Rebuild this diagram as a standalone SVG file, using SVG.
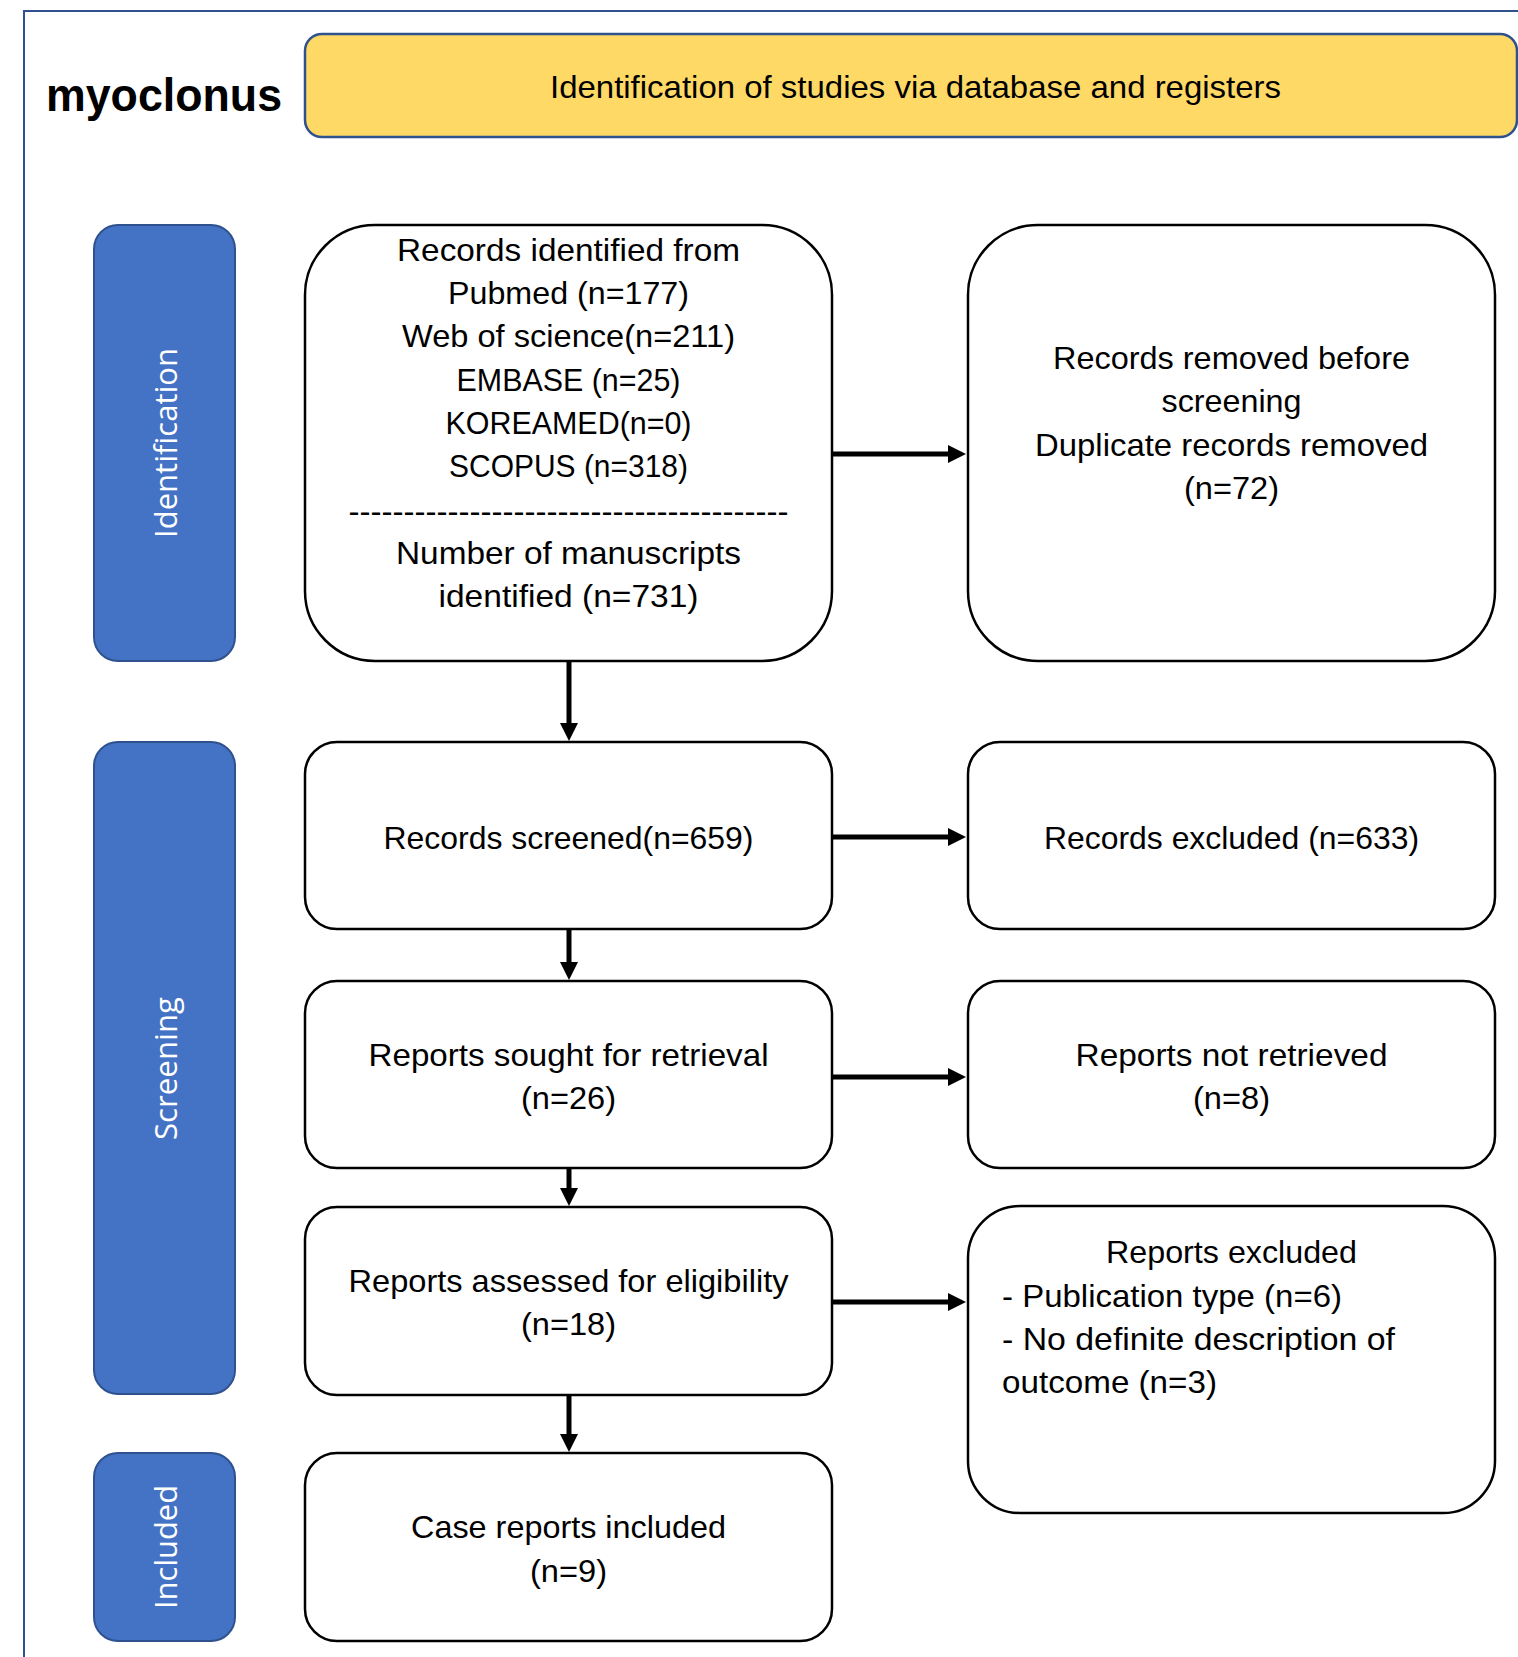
<svg xmlns="http://www.w3.org/2000/svg" width="1518" height="1657" viewBox="0 0 1518 1657">
<style>
.box{fill:#fff;stroke:#000;stroke-width:2.5}
.tab{fill:#4472C4;stroke:#2F528F;stroke-width:2}
.t{font-family:"Liberation Sans",Arial,sans-serif;font-size:32px;fill:#000;text-anchor:middle}
.tl{font-family:"Liberation Sans",Arial,sans-serif;font-size:32px;fill:#000;text-anchor:start}
.v{font-family:"Open Sans","DejaVu Sans",sans-serif;font-size:31px;fill:#fff;text-anchor:middle}
.c{stroke:#000;stroke-width:5;fill:none;marker-end:url(#ah)}
</style>
<defs>
<marker id="ah" markerUnits="userSpaceOnUse" markerWidth="18" markerHeight="18" refX="2" refY="9" orient="auto">
<path d="M0,0 L18,9 L0,18 z" fill="#000"/>
</marker>
</defs>
<rect width="1518" height="1657" fill="#fff"/>
<rect x="24" y="11" width="1600" height="1700" fill="none" stroke="#2F528F" stroke-width="2"/>

<g id="title">
<text x="46" y="111" font-family="'Liberation Sans',Arial,sans-serif" font-weight="bold" font-size="46" textLength="236" lengthAdjust="spacingAndGlyphs">myoclonus</text>
</g>

<g id="header">
<rect x="305" y="34" width="1212" height="103" rx="17" fill="#FFD966" stroke="#2F528F" stroke-width="2.5"/>
<text class="t" x="915.5" y="98" textLength="731" lengthAdjust="spacingAndGlyphs">Identification of studies via database and registers</text>
</g>

<g id="tab-identification">
<rect class="tab" x="94" y="225" width="141" height="436" rx="24"/>
<text class="v" transform="translate(177,443) rotate(-90)" textLength="190" lengthAdjust="spacingAndGlyphs">Identification</text>
</g>
<g id="tab-screening">
<rect class="tab" x="94" y="742" width="141" height="652" rx="24"/>
<text class="v" transform="translate(177,1068.5) rotate(-90)" textLength="143" lengthAdjust="spacingAndGlyphs">Screening</text>
</g>
<g id="tab-included">
<rect class="tab" x="94" y="1453" width="141" height="188" rx="24"/>
<text class="v" transform="translate(177,1547) rotate(-90)" textLength="124" lengthAdjust="spacingAndGlyphs">Included</text>
</g>

<g id="records-identified">
<rect class="box" x="305" y="225" width="527" height="436" rx="70"/>
<text class="t" x="568.5" y="261" textLength="343" lengthAdjust="spacingAndGlyphs">Records identified from</text>
<text class="t" x="568.5" y="304" textLength="241" lengthAdjust="spacingAndGlyphs">Pubmed (n=177)</text>
<text class="t" x="568.5" y="347" textLength="333" lengthAdjust="spacingAndGlyphs">Web of science(n=211)</text>
<text class="t" x="568.5" y="390.5" textLength="224" lengthAdjust="spacingAndGlyphs">EMBASE (n=25)</text>
<text class="t" x="568.5" y="433.5" textLength="246" lengthAdjust="spacingAndGlyphs">KOREAMED(n=0)</text>
<text class="t" x="568.5" y="477" textLength="239" lengthAdjust="spacingAndGlyphs">SCOPUS (n=318)</text>
<text class="t" x="568.5" y="522" textLength="440" lengthAdjust="spacingAndGlyphs">----------------------------------------</text>
<text class="t" x="568.5" y="563.5" textLength="345" lengthAdjust="spacingAndGlyphs">Number of manuscripts</text>
<text class="t" x="568.5" y="606.5" textLength="260" lengthAdjust="spacingAndGlyphs">identified (n=731)</text>
</g>

<g id="records-removed">
<rect class="box" x="968" y="225" width="527" height="436" rx="70"/>
<text class="t" x="1231.5" y="368.5" textLength="357" lengthAdjust="spacingAndGlyphs">Records removed before</text>
<text class="t" x="1231.5" y="412" textLength="140" lengthAdjust="spacingAndGlyphs">screening</text>
<text class="t" x="1231.5" y="455.5" textLength="393" lengthAdjust="spacingAndGlyphs">Duplicate records removed</text>
<text class="t" x="1231.5" y="498.5" textLength="95" lengthAdjust="spacingAndGlyphs">(n=72)</text>
</g>

<g id="records-screened">
<rect class="box" x="305" y="742" width="527" height="187" rx="32"/>
<text class="t" x="568.5" y="848.5" textLength="370" lengthAdjust="spacingAndGlyphs">Records screened(n=659)</text>
</g>

<g id="records-excluded">
<rect class="box" x="968" y="742" width="527" height="187" rx="32"/>
<text class="t" x="1231.5" y="848.5" textLength="375" lengthAdjust="spacingAndGlyphs">Records excluded (n=633)</text>
</g>

<g id="reports-sought">
<rect class="box" x="305" y="981" width="527" height="187" rx="32"/>
<text class="t" x="568.5" y="1065.5" textLength="400" lengthAdjust="spacingAndGlyphs">Reports sought for retrieval</text>
<text class="t" x="568.5" y="1108.5" textLength="95" lengthAdjust="spacingAndGlyphs">(n=26)</text>
</g>

<g id="reports-not-retrieved">
<rect class="box" x="968" y="981" width="527" height="187" rx="32"/>
<text class="t" x="1231.5" y="1065.5" textLength="312" lengthAdjust="spacingAndGlyphs">Reports not retrieved</text>
<text class="t" x="1231.5" y="1108.5" textLength="77" lengthAdjust="spacingAndGlyphs">(n=8)</text>
</g>

<g id="reports-assessed">
<rect class="box" x="305" y="1207" width="527" height="188" rx="32"/>
<text class="t" x="568.5" y="1291.5" textLength="440" lengthAdjust="spacingAndGlyphs">Reports assessed for eligibility</text>
<text class="t" x="568.5" y="1334.5" textLength="95" lengthAdjust="spacingAndGlyphs">(n=18)</text>
</g>

<g id="reports-excluded">
<rect class="box" x="968" y="1206" width="527" height="307" rx="52"/>
<text class="t" x="1231.5" y="1263" textLength="251" lengthAdjust="spacingAndGlyphs">Reports excluded</text>
<text class="tl" x="1002" y="1306.5" textLength="340" lengthAdjust="spacingAndGlyphs">- Publication type (n=6)</text>
<text class="tl" x="1002" y="1349.5" textLength="393" lengthAdjust="spacingAndGlyphs">- No definite description of</text>
<text class="tl" x="1002" y="1393" textLength="215" lengthAdjust="spacingAndGlyphs">outcome (n=3)</text>
</g>

<g id="case-reports-included">
<rect class="box" x="305" y="1453" width="527" height="188" rx="32"/>
<text class="t" x="568.5" y="1537.5" textLength="315" lengthAdjust="spacingAndGlyphs">Case reports included</text>
<text class="t" x="568.5" y="1581.5" textLength="77" lengthAdjust="spacingAndGlyphs">(n=9)</text>
</g>

<g id="connectors">
<line class="c" x1="833" y1="454" x2="950" y2="454"/>
<line class="c" x1="833" y1="837" x2="950" y2="837"/>
<line class="c" x1="833" y1="1077" x2="950" y2="1077"/>
<line class="c" x1="833" y1="1302" x2="950" y2="1302"/>
<line class="c" x1="569" y1="662" x2="569" y2="725"/>
<line class="c" x1="569" y1="930" x2="569" y2="964"/>
<line class="c" x1="569" y1="1169" x2="569" y2="1190"/>
<line class="c" x1="569" y1="1396" x2="569" y2="1436"/>
</g>
</svg>
